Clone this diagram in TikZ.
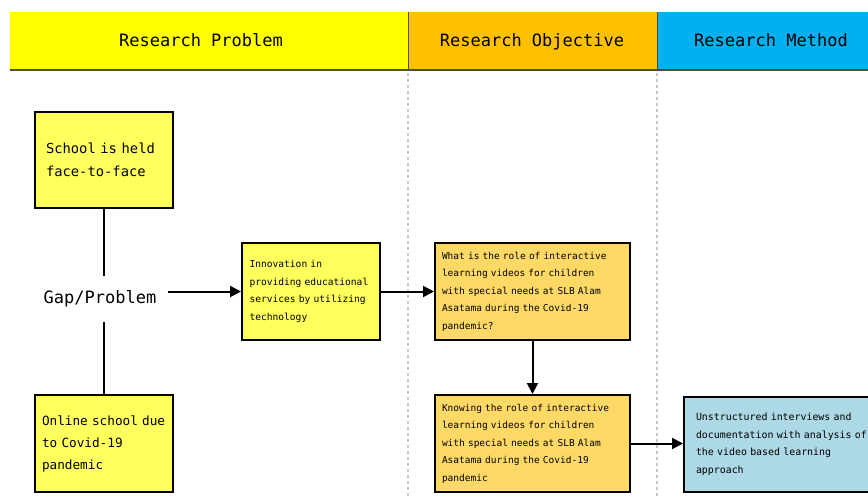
\documentclass[tikz,border=0pt]{standalone}
\usepackage{fontspec}
\setmonofont{DejaVu Sans Mono}
\usetikzlibrary{arrows.meta}
\definecolor{headyellow}{HTML}{FFFF00}
\definecolor{headorange}{HTML}{FFC000}
\definecolor{headblue}{HTML}{00B0F0}
\definecolor{boxyellow}{HTML}{FFFF5E}
\definecolor{boxorange}{HTML}{FFD966}
\definecolor{boxblue}{HTML}{ADD8E6}
\begin{document}
\begin{tikzpicture}[x=1pt,y=-1pt,
    every node/.style={font=\ttfamily},
    headtext/.style={font=\ttfamily\fontsize{17}{20}\selectfont, anchor=base},
    stickybox/.style={draw, line width=2pt, rectangle, align=left, inner ysep=0pt},
    lane/.style={gray!45, line width=1.5pt, dash pattern=on 3pt off 3pt},
    link/.style={line width=2pt},
    arrow/.style={link, -{Triangle[length=11pt,width=11pt]}}]
            \useasboundingbox (0,0) rectangle (868,498);
            \clip (0,0) rectangle (868,498);
            % header band
            \fill [headyellow] (10,12) rectangle (408,70);
            \fill [headorange] (408,12) rectangle (657,70);
            \fill [headblue] (657,12) rectangle (872,70);
            \draw [black!70, line width=1pt] (408,12) -- (408,70);
            \draw [black!70, line width=1pt] (657,12) -- (657,70);
            \draw [black!70, line width=2.5pt] (10,70) -- (872,70);
            \node [headtext] (problemhead) at (201,46) {Research Problem};
            \node [headtext] (objectivehead) at (532,46) {Research Objective};
            \node [headtext] (methodhead) at (771,46) {Research Method};
            \draw [lane] (408,73) -- (408,498);
            \draw [lane] (657,73) -- (657,498);
            % research problem
            \node [stickybox, fill=boxyellow, text width=116pt, inner xsep=11pt, minimum height=96pt,
                font=\ttfamily\fontsize{13.8}{23}\selectfont] (faceface) at (104,160)
                {School is held\\face-to-face};
            \node [font=\ttfamily\fontsize{17}{20}\selectfont, inner xsep=12pt, minimum height=45pt] (gap) at (100,299) {Gap/Problem};
            \node [stickybox, fill=boxyellow, text width=124pt, inner xsep=7pt, minimum height=97pt,
                font=\ttfamily\fontsize{12.7}{22}\selectfont] (online) at (104,443.5)
                {Online school due\\to Covid-19\\pandemic};
            \node [stickybox, fill=boxyellow, text width=123pt, inner xsep=7.5pt, minimum height=97pt,
                font=\ttfamily\fontsize{9.6}{17.5}\selectfont] (innovation) at (311,291.5)
                {Innovation in\\providing educational\\services by utilizing\\technology};
            % research objective
            \node [stickybox, fill=boxorange, text width=181pt, inner xsep=7pt, minimum height=97pt,
                font=\ttfamily\fontsize{9.5}{17.5}\selectfont] (question) at (532.5,291.5)
                {What is the role of interactive\\learning videos for children\\with special needs at SLB Alam\\Asatama during the Covid-19\\pandemic?};
            \node [stickybox, fill=boxorange, text width=181pt, inner xsep=7pt, minimum height=97pt,
                font=\ttfamily\fontsize{9.5}{17.5}\selectfont] (knowing) at (532.5,443.5)
                {Knowing the role of interactive\\learning videos for children\\with special needs at SLB Alam\\Asatama during the Covid-19\\pandemic};
            % research method
            \node [stickybox, fill=boxblue, text width=176pt, inner xsep=12pt, minimum height=95pt,
                font=\ttfamily\fontsize{9.9}{17.5}\selectfont] (method) at (784,444.5)
                {Unstructured interviews and\\documentation with analysis of\\the video based learning\\approach};
            % connectors
            \draw [link] (faceface.south) -- (faceface.south |- gap.north);
            \draw [link] (online.north |- gap.south) -- (online.north);
            \draw [arrow] (gap.east |- innovation.west) -- (innovation.west);
            \draw [arrow] (innovation.east) -- (question.west);
            \draw [arrow] (question.south) -- (knowing.north);
            \draw [arrow] (knowing.east) -- (knowing.east -| method.west);
        \end{tikzpicture}
\end{document}
